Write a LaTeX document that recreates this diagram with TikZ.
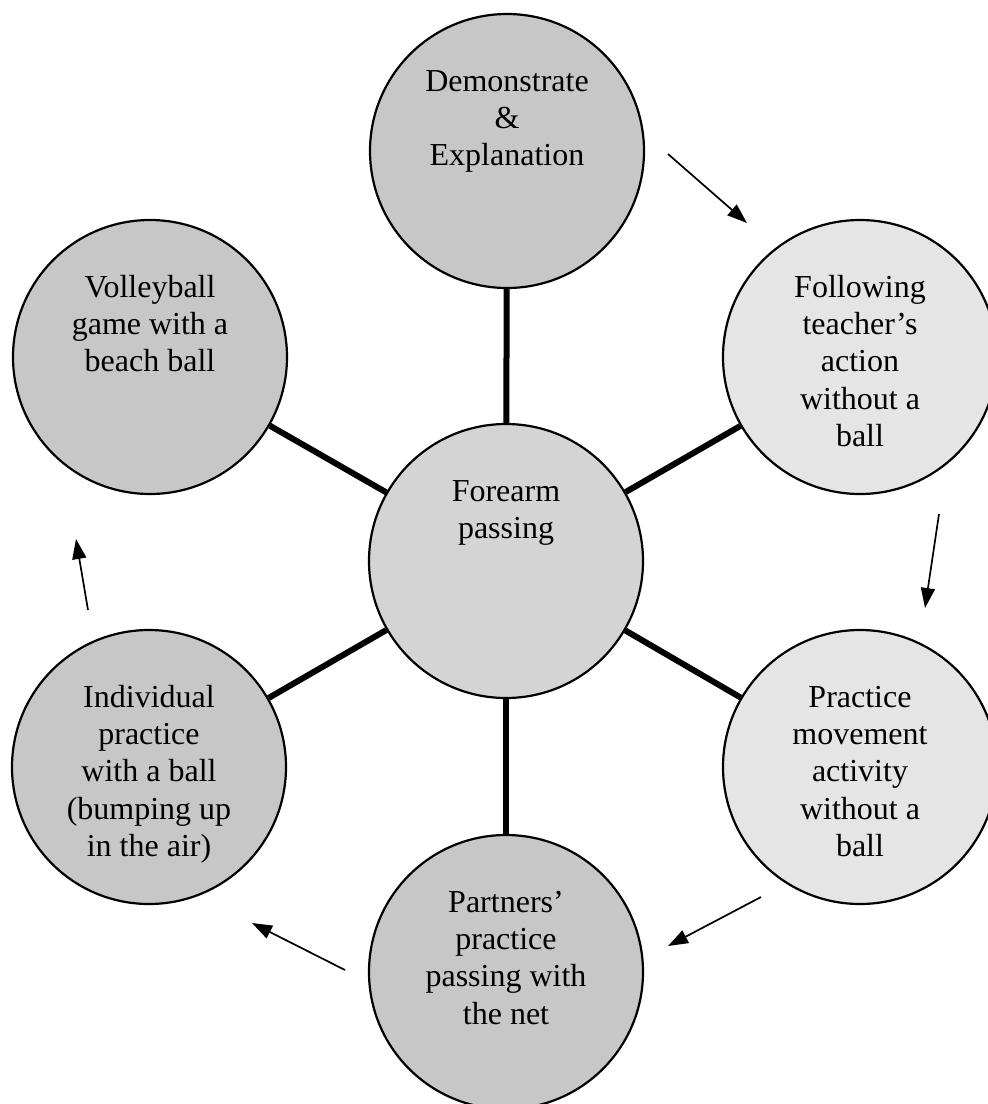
\documentclass[tikz,border=0pt]{standalone}
\usepackage{fontspec}
\setmainfont{Liberation Serif}
\usetikzlibrary{arrows.meta}
\begin{document}
\begin{tikzpicture}[x=0.5pt,y=-0.5pt,
  bubble/.style={circle,draw=black,line width=1.1pt,minimum size=137pt,inner sep=0pt},
  darkbubble/.style={bubble,fill=black!22},
  midbubble/.style={bubble,fill=black!17},
  lightbubble/.style={bubble,fill=black!10},
  words/.style={anchor=north,align=center,inner sep=0pt,font=\fontsize{16}{18.6}\selectfont},
  spoke/.style={line width=3pt},
  flow/.style={line width=0.85pt,-{Triangle[length=10pt,width=7pt]}}]
\useasboundingbox (0,0) rectangle (988,1104);

% the seven circles
\node[midbubble]   (core)    at (506,561) {};
\node[darkbubble]  (demo)    at (507,151) {};
\node[lightbubble] (follow)  at (860,357) {};
\node[lightbubble] (move)    at (860,767) {};
\node[darkbubble]  (partner) at (506,972) {};
\node[darkbubble]  (indiv)   at (149,767) {};
\node[darkbubble]  (game)    at (150,357) {};

% spokes from the hub
\foreach \n in {demo,follow,move,partner,indiv,game}
  \draw[spoke] (core) -- (\n);

% captions, set from the top of each circle
\node[words] (core-t)    at (506,475) {\strut Forearm\\passing};
\node[words] (demo-t)    at (507,65)  {\strut Demonstrate\\\&\\Explanation};
\node[words] (follow-t)  at (860,271) {\strut Following\\teacher’s\\action\\without a\\ball};
\node[words] (move-t)    at (860,681) {\strut Practice\\movement\\activity\\without a\\ball};
\node[words] (partner-t) at (506,886) {\strut Partners’\\practice\\passing with\\the net};
\node[words] (indiv-t)   at (149,681) {\strut Individual\\practice\\with a ball\\(bumping up\\in the air)};
\node[words] (game-t)    at (150,271) {\strut Volleyball\\game with a\\beach ball};

% order of the activities
\coordinate (a1s) at (668,154); \coordinate (a1e) at (747,223);
\coordinate (a2s) at (939,514); \coordinate (a2e) at (925,608);
\coordinate (a3s) at (761,897); \coordinate (a3e) at (668,946);
\coordinate (a4s) at (345,970); \coordinate (a4e) at (252,923);
\coordinate (a5s) at (88,610);  \coordinate (a5e) at (76,539);
\draw[flow] (a1s) -- (a1e);
\draw[flow] (a2s) -- (a2e);
\draw[flow] (a3s) -- (a3e);
\draw[flow] (a4s) -- (a4e);
\draw[flow] (a5s) -- (a5e);
\end{tikzpicture}
\end{document}
